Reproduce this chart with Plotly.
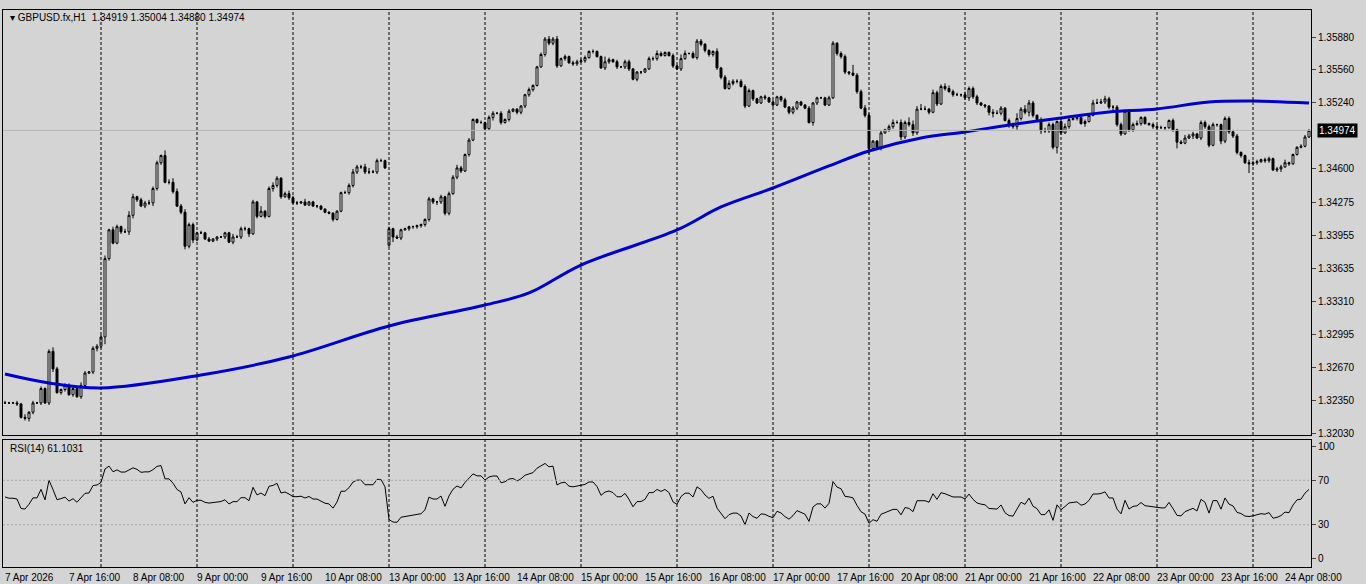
import plotly.graph_objects as go
import numpy as np

# hourly closes, 7 Apr 2026 00:00 -> 24 Apr 14:00 (weekend skipped)
closes = [
 1.3233,1.3233,1.3233,1.3232,1.3219,1.3218,1.3224,1.3233,1.3233,1.3247,1.3233,1.3283,1.3266,1.3243,1.3246,1.3250,1.3241,1.3247,1.3239,1.3250,1.3262,1.3263,1.3286,1.3288,
 1.3297,1.3373,1.3401,1.3388,1.3404,1.3399,1.3399,1.3415,1.3433,1.3430,1.3424,1.3427,1.3427,1.3441,1.3466,1.3473,1.3447,1.3447,1.3438,1.3424,1.3418,1.3385,1.3406,1.3391,
 1.3398,1.3398,1.3392,1.3390,1.3392,1.3394,1.3394,1.3398,1.3389,1.3394,1.3394,1.3402,1.3402,1.3397,1.3428,1.3414,1.3419,1.3414,1.3441,1.3444,1.3451,1.3433,1.3436,1.3432,
 1.3427,1.3427,1.3428,1.3425,1.3428,1.3424,1.3424,1.3421,1.3418,1.3417,1.3411,1.3419,1.3437,1.3437,1.3444,1.3457,1.3462,1.3462,1.3457,1.3457,1.3457,1.3468,1.3468,1.3461,
 1.3402,1.3394,1.3393,1.3401,1.3402,1.3404,1.3404,1.3405,1.3406,1.3411,1.3431,1.3428,1.3428,1.3433,1.3417,1.3436,1.3452,1.3461,1.3458,1.3474,1.3488,1.3508,1.3505,1.3505,
 1.3499,1.3510,1.3514,1.3514,1.3505,1.3508,1.3516,1.3518,1.3515,1.3521,1.3532,1.3537,1.3541,1.3559,1.3571,1.3586,1.3582,1.3586,1.3560,1.3567,1.3569,1.3563,1.3562,1.3564,
 1.3565,1.3568,1.3574,1.3574,1.3569,1.3558,1.3564,1.3566,1.3564,1.3559,1.3559,1.3564,1.3557,1.3547,1.3554,1.3554,1.3557,1.3567,1.3567,1.3572,1.3570,1.3573,1.3570,1.3560,
 1.3557,1.3567,1.3572,1.3572,1.3568,1.3584,1.3581,1.3575,1.3571,1.3574,1.3558,1.3549,1.3538,1.3543,1.3545,1.3545,1.3540,1.3521,1.3536,1.3528,1.3524,1.3530,1.3529,1.3525,
 1.3522,1.3530,1.3527,1.3520,1.3515,1.3519,1.3525,1.3522,1.3519,1.3505,1.3524,1.3529,1.3529,1.3522,1.3529,1.3582,1.3572,1.3569,1.3554,1.3553,1.3551,1.3535,1.3519,1.3512,
 1.3480,1.3487,1.3481,1.3495,1.3498,1.3501,1.3505,1.3505,1.3491,1.3505,1.3503,1.3495,1.3518,1.3518,1.3518,1.3515,1.3534,1.3523,1.3540,1.3538,1.3535,1.3532,1.3532,1.3532,
 1.3529,1.3538,1.3530,1.3524,1.3522,1.3521,1.3515,1.3514,1.3514,1.3519,1.3507,1.3502,1.3501,1.3509,1.3518,1.3515,1.3524,1.3512,1.3508,1.3497,1.3497,1.3503,1.3481,1.3506,
 1.3495,1.3501,1.3508,1.3509,1.3510,1.3504,1.3506,1.3512,1.3524,1.3524,1.3525,1.3528,1.3520,1.3520,1.3503,1.3494,1.3516,1.3498,1.3503,1.3504,1.3510,1.3504,1.3503,1.3501,
 1.3500,1.3500,1.3500,1.3507,1.3498,1.3486,1.3485,1.3490,1.3492,1.3494,1.3490,1.3505,1.3501,1.3483,1.3503,1.3503,1.3487,1.3509,1.3496,1.3492,1.3476,1.3473,1.3466,1.3465,
 1.3466,1.3467,1.3469,1.3468,1.3470,1.3459,1.3460,1.3462,1.3466,1.3465,1.3474,1.3481,1.3482,1.3491,1.34974]

# opens that differ from the previous close (weekend gap)
gap_opens = {96: 1.3386}

# wick lengths in pips (upper / lower), one digit per bar
upper_wicks = ("211213121212421222132122"
               "231321343122322153432322"
               "121211111322212151232123"
               "221311111111122322342221"
               "212111111121121223212112"
               "122121211112112232312122"
               "221211521212211112232112"
               "143122211131232222211121"
               "211212111211112212218223"
               "211212323254353132233221"
               "322211133212352432123221"
               "232122213433222212231112"
               "221121232212222112222113"
               "2212212231112212")
lower_wicks = ("111212321212312212121123"
               "272112133212232212212323"
               "111112121212231212132212"
               "121111211121112222221211"
               "251212222222322212212111"
               "213121212222211222212122"
               "121211221212212211221112"
               "121112222222112212121121"
               "212122211132111122221212"
               "622312213223211212121212"
               "232212341212232242232226"
               "212121311112252212212112"
               "212126111312221232222219"
               "2212212312111111")

# 200-period moving average readings (bar index, value)
ma_idx = [0, 11, 24, 49, 71, 96, 120, 131, 144, 168, 179, 192, 206, 216, 229, 240, 251, 264, 276, 288, 301, 312, 326]
ma_val = [1.32611, 1.32524, 1.32475, 1.32601, 1.32776, 1.33077, 1.33280, 1.33397, 1.33668, 1.34008, 1.34231,
          1.34415, 1.34629, 1.34774, 1.34900, 1.34959, 1.35026, 1.35094, 1.35152, 1.35182, 1.35250, 1.35259, 1.35240]

price_ticks = [1.35880, 1.35560, 1.35240, 1.34600, 1.34275, 1.33955, 1.33635, 1.33310, 1.32995, 1.32670, 1.32350, 1.32030]
rsi_ticks = [100, 70, 30, 0]
time_labels = ["7 Apr 2026", "7 Apr 16:00", "8 Apr 08:00", "9 Apr 00:00", "9 Apr 16:00", "10 Apr 08:00",
               "13 Apr 00:00", "13 Apr 16:00", "14 Apr 08:00", "15 Apr 00:00", "15 Apr 16:00", "16 Apr 08:00",
               "17 Apr 00:00", "17 Apr 16:00", "20 Apr 08:00", "21 Apr 00:00", "21 Apr 16:00", "22 Apr 08:00",
               "23 Apr 00:00", "23 Apr 16:00", "24 Apr 08:00"]

n = len(closes)
x = list(range(n))
opens = [closes[0]] + closes[:-1]
for k, v in gap_opens.items():
    opens[k] = v
highs = [max(o, c) + int(u) * 0.0001 for o, c, u in zip(opens, closes, upper_wicks)]
lows = [min(o, c) - int(l) * 0.0001 for o, c, l in zip(opens, closes, lower_wicks)]

# RSI(14), Wilder
c = np.array(closes)
d = np.diff(c)
g = np.where(d > 0, d, 0.0); ls = np.where(d < 0, -d, 0.0)
ag, al = 0.00035, 0.0003
rsi = [55.0]
for gi, li in zip(g, ls):
    ag = (ag * 13 + gi) / 14; al = (al * 13 + li) / 14
    rsi.append(100 - 100 / (1 + ag / al) if al > 0 else 100)

BG = "#d4d4d4"
fig = go.Figure()
fig.add_trace(go.Candlestick(x=x, open=opens, high=highs, low=lows, close=closes,
    increasing=dict(fillcolor="white", line=dict(color="black", width=1)),
    decreasing=dict(fillcolor="black", line=dict(color="black", width=1)),
    whiskerwidth=0, xaxis="x", yaxis="y", showlegend=False, hoverinfo="skip"))
fig.add_trace(go.Scatter(x=ma_idx, y=ma_val, mode="lines", line=dict(color="#0000cc", width=3, shape="spline"),
    xaxis="x", yaxis="y", showlegend=False))
fig.add_trace(go.Scatter(x=x, y=rsi, mode="lines", line=dict(color="black", width=1),
    xaxis="x2", yaxis="y2", showlegend=False))

shapes = []
for i in range(24, n, 24):
    for yr in ("y domain", "y2 domain"):
        shapes.append(dict(type="line", xref="x", yref=yr, x0=i, x1=i, y0=0, y1=1,
                           line=dict(color="black", width=1, dash="3px,2px")))
shapes.append(dict(type="line", xref="x domain", yref="y", x0=0, x1=1, y0=closes[-1], y1=closes[-1],
                   line=dict(color="#b4b4b4", width=1)))
for v in (70, 30):
    shapes.append(dict(type="line", xref="x2 domain", yref="y2", x0=0, x1=1, y0=v, y1=v,
                       line=dict(color="#a8a8a8", width=1, dash="2px,2px")))

ann = []
for k, t in enumerate(time_labels):
    ann.append(dict(x=k * 16 - 0.5, y=-0.006, xref="x2", yref="paper", text=t, showarrow=False,
                    xanchor="left", yanchor="top", font=dict(size=10, color="black")))
ann.append(dict(x=0.004, y=1.0, xref="paper", yref="paper", text="▾ GBPUSD.fx,H1  1.34919 1.35004 1.34880 1.34974",
                showarrow=False, xanchor="left", yanchor="top", font=dict(size=10, color="black")))
ann.append(dict(x=0.004, y=0.226, xref="paper", yref="paper", text="RSI(14) 61.1031",
                showarrow=False, xanchor="left", yanchor="top", font=dict(size=10, color="black")))
ann.append(dict(x=1.0, y=closes[-1], xref="paper", yref="y", text="1.34974", showarrow=False, xanchor="left",
                bgcolor="black", font=dict(size=10, color="white"), borderpad=1, xshift=6))

ax = dict(showgrid=False, zeroline=False, showline=True, linecolor="black", mirror=True)
fig.update_layout(
    width=1366, height=584, paper_bgcolor=BG, plot_bgcolor=BG,
    margin=dict(l=3, r=55, t=10, b=17),
    font=dict(family="Liberation Sans, Arial", size=10, color="black"),
    xaxis=dict(**ax, range=[-0.5, n - 0.5], domain=[0, 1], anchor="y", showticklabels=False, rangeslider=dict(visible=False)),
    xaxis2=dict(**ax, range=[-0.5, n - 0.5], domain=[0, 1], anchor="y2", showticklabels=False, matches="x"),
    yaxis=dict(**ax, domain=[0.237, 1], range=[1.32019, 1.36142], side="right",
               tickvals=price_ticks, ticktext=[f"{v:.5f}" for v in price_ticks], ticks="outside", ticklen=4),
    yaxis2=dict(**ax, domain=[0, 0.228], range=[-8.1, 106.3], side="right",
                tickvals=rsi_ticks, ticks="outside", ticklen=4),
    shapes=shapes, annotations=ann,
)
fig.write_html("out.html", config={"displayModeBar": False},
               post_script="document.body.style.margin='0';document.body.style.overflow='hidden';")
